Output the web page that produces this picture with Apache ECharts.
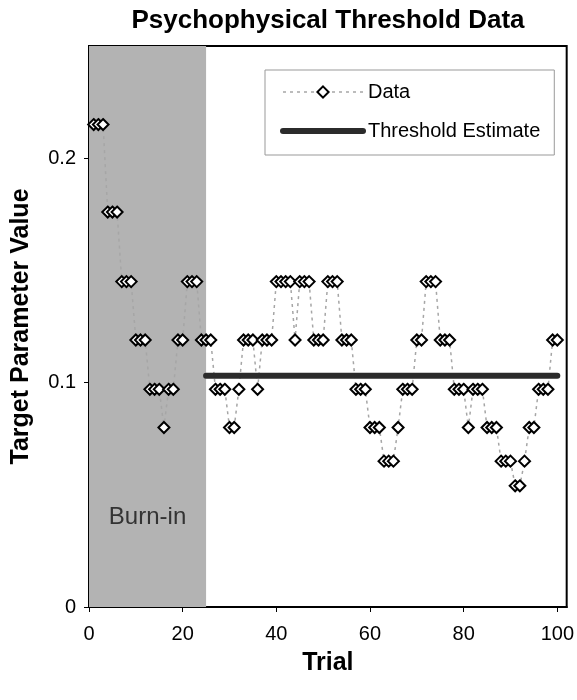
<!DOCTYPE html>
<html>
<head>
<meta charset="utf-8">
<script src="https://cdn.jsdelivr.net/npm/echarts@6/dist/echarts.min.js"></script>
<style>
  html, body { margin: 0; padding: 0; background: #fff; }
  #chart { width: 577px; height: 700px; }
</style>
</head>
<body>
<div id="chart"></div>
<script>
// staircase values, one per trial (trial = index + 1)
const values = [
    0.215, 0.215, 0.215, 0.176, 0.176, 0.176, 0.145, 0.145, 0.145, 0.119,
    0.119, 0.119, 0.097, 0.097, 0.097, 0.080, 0.097, 0.097, 0.119, 0.119,
    0.145, 0.145, 0.145, 0.119, 0.119, 0.119, 0.097, 0.097, 0.097, 0.080,
    0.080, 0.097, 0.119, 0.119, 0.119, 0.097, 0.119, 0.119, 0.119, 0.145,
    0.145, 0.145, 0.145, 0.119, 0.145, 0.145, 0.145, 0.119, 0.119, 0.119,
    0.145, 0.145, 0.145, 0.119, 0.119, 0.119, 0.097, 0.097, 0.097, 0.080,
    0.080, 0.080, 0.065, 0.065, 0.065, 0.080, 0.097, 0.097, 0.097, 0.119,
    0.119, 0.145, 0.145, 0.145, 0.119, 0.119, 0.119, 0.097, 0.097, 0.097,
    0.080, 0.097, 0.097, 0.097, 0.080, 0.080, 0.080, 0.065, 0.065, 0.065,
    0.054, 0.054, 0.065, 0.080, 0.080, 0.097, 0.097, 0.097, 0.119, 0.119
];
const thresholdValue = 0.103;
const thresholdTrials = [25, 100];
const burnIn = [0, 25];
const xTicks = [0, 20, 40, 60, 80, 100];
const yTicks = [0, 0.1, 0.2];

const font = 'Liberation Sans, Arial, sans-serif';

let dataPoints = values.map((v, i) => [i + 1, v]);
let thresholdLine = thresholdTrials.map(t => [t, thresholdValue]);

const chart = echarts.init(document.getElementById('chart'));

let option = {
    animation: false,
    backgroundColor: '#fff',
    title: {
        text: 'Psychophysical Threshold Data',
        left: 323,
        top: 3,
        textAlign: 'center',
        textStyle: {
            fontFamily: font,
            fontSize: 26,
            fontWeight: 'bold',
            color: '#000'
        }
    },
    grid: {
        left: 89,
        right: 9,
        top: 46,
        bottom: 93,
        show: true,
        borderColor: '#000',
        borderWidth: 2
    },
    legend: {
        orient: 'vertical',
        left: 265,
        top: 70,
        padding: [12, 14, 14, 15],
        itemWidth: 80,
        itemHeight: 14,
        itemGap: 19,
        backgroundColor: '#fff',
        borderColor: '#999',
        borderWidth: 1,
        textStyle: {
            fontFamily: font,
            fontSize: 20,
            color: '#000'
        },
        lineStyle: {
            width: 'inherit'
        },
        data: [
            'Data',
            { name: 'Threshold Estimate', itemStyle: { opacity: 0 } }
        ]
    },
    xAxis: {
        type: 'value',
        min: 0,
        max: 102,
        interval: 20,
        name: 'Trial',
        nameLocation: 'middle',
        nameGap: 44,
        nameTextStyle: {
            fontFamily: font,
            fontSize: 25,
            fontWeight: 'bold',
            color: '#000'
        },
        axisLine: { lineStyle: { color: '#000', width: 2 } },
        axisTick: { length: 5, customValues: xTicks, lineStyle: { color: '#000' } },
        axisLabel: {
            fontFamily: font,
            fontSize: 20,
            color: '#000',
            margin: 17,
            customValues: xTicks
        },
        splitLine: { show: false }
    },
    yAxis: {
        type: 'value',
        min: 0,
        max: 0.25,
        interval: 0.1,
        name: 'Target Parameter Value',
        nameLocation: 'middle',
        nameGap: 55,
        nameTextStyle: {
            fontFamily: font,
            fontSize: 25,
            fontWeight: 'bold',
            color: '#000'
        },
        axisLine: { show: true, lineStyle: { color: '#000', width: 2 } },
        axisTick: { show: true, length: 5, customValues: yTicks, lineStyle: { color: '#000' } },
        axisLabel: {
            fontFamily: font,
            fontSize: 20,
            color: '#000',
            margin: 13,
            customValues: yTicks
        },
        splitLine: { show: false }
    },
    series: [
        {
            // shaded burn-in region
            name: 'Burn-in',
            type: 'line',
            z: -1,
            data: [],
            markArea: {
                silent: true,
                itemStyle: { color: '#b3b3b3' },
                label: {
                    show: true,
                    position: 'insideBottom',
                    distance: 78,
                    fontFamily: font,
                    fontSize: 24,
                    color: '#333'
                },
                data: [[{ xAxis: burnIn[0], name: 'Burn-in' }, { xAxis: burnIn[1] }]]
            }
        },
        {
            name: 'Data',
            type: 'line',
            data: dataPoints,
            symbol: 'diamond',
            symbolSize: 11,
            showAllSymbol: true,
            lineStyle: {
                color: '#a6a6a6',
                width: 1.5,
                type: [3, 4]
            },
            itemStyle: {
                color: '#fff',
                borderColor: '#000',
                borderWidth: 2
            }
        },
        {
            name: 'Threshold Estimate',
            type: 'line',
            data: thresholdLine,
            symbol: 'none',
            lineStyle: {
                color: '#2b2b2b',
                width: 6,
                cap: 'round'
            },
            itemStyle: { color: '#2b2b2b' }
        }
    ]
};

chart.setOption(option);
</script>
</body>
</html>
